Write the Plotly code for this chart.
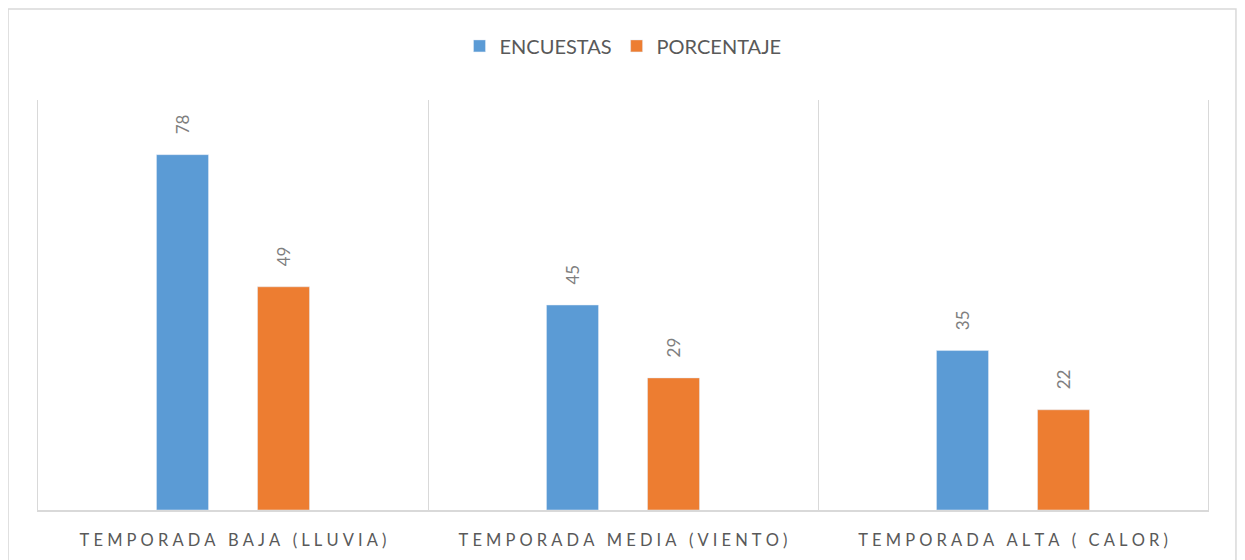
import plotly.graph_objects as go

categories = ["TEMPORADA BAJA (LLUVIA)", "TEMPORADA MEDIA (VIENTO)", "TEMPORADA ALTA ( CALOR)"]
encuestas = [78, 45, 35]
porcentaje = [49, 29, 22]

BLUE = "#5b9bd5"
ORANGE = "#ed7d31"
GRID = "#d9d9d9"
TXT = "#595959"
SP = "\u2005"


def spaced(s):
    # excel-style letter spacing on the category labels
    return SP.join(list(s)).replace(SP + " " + SP, SP + SP + SP)


fig = go.Figure()
for name, vals, col in [("ENCUESTAS", encuestas, BLUE), ("PORCENTAJE", porcentaje, ORANGE)]:
    fig.add_trace(go.Bar(x=categories, y=vals, name=name, marker=dict(color=col),
                         text=vals, texttemplate="\u00a0\u00a0\u00a0\u00a0%{text}",
                         textposition="outside", textangle=-90,
                         textfont=dict(color="#7f7f7f", size=17), cliponaxis=False))

fig.update_layout(
    width=1245, height=560,
    margin=dict(l=30, r=45, t=92, b=58),
    paper_bgcolor="white", plot_bgcolor="white",
    font=dict(family="Lato, 'Open Sans', sans-serif", color=TXT, size=15),
    barmode="group", bargap=0.482, bargroupgap=0.485,
    showlegend=True,
    legend=dict(orientation="h", x=0.5, xanchor="center", y=1.222 - 0.09, yanchor="middle",
                font=dict(size=20, color=TXT), itemwidth=30, traceorder="normal"),
    xaxis=dict(tickvals=categories, ticktext=[spaced(c) for c in categories],
               tickson="boundaries", showgrid=True, gridcolor=GRID, gridwidth=1,
               showline=True, linecolor=GRID, linewidth=2, ticks="",
               ticklabelstandoff=14,
               tickfont=dict(size=16.5, color=TXT), fixedrange=True),
    yaxis=dict(range=[0, 90], showgrid=False, showticklabels=False, zeroline=False,
               showline=True, mirror=True, linecolor=GRID, linewidth=1),
    shapes=[dict(type="rect", xref="paper", yref="paper", x0=-0.0256, x1=1.0239,
                 y0=-0.2, y1=1.222, line=dict(color=GRID, width=1.5), layer="below")],
)

fig.write_html("out.html")
